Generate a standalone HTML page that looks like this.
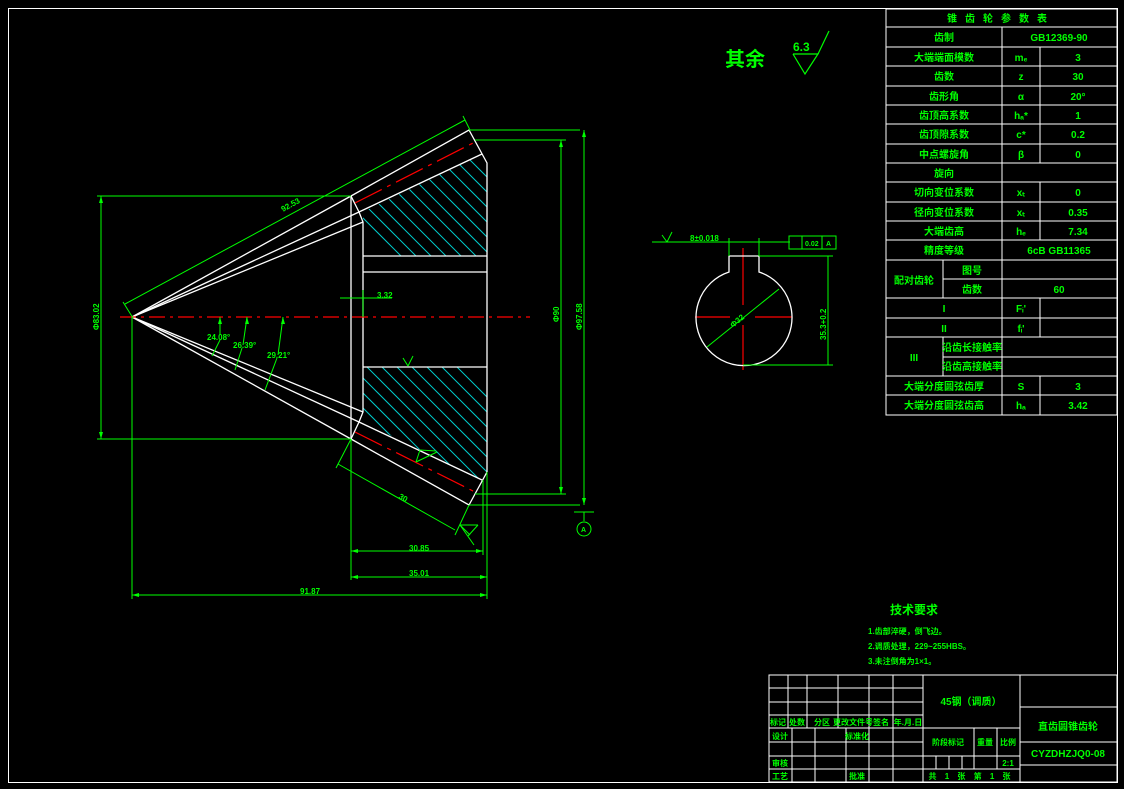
<!DOCTYPE html>
<html><head><meta charset="utf-8"><style>
html,body{margin:0;padding:0;background:#000;}
svg{display:block;}
text{font-family:"Liberation Sans","Noto Sans CJK SC",sans-serif;fill:#00ff00;font-weight:bold;}
</style></head><body>
<svg width="1124" height="789" viewBox="0 0 1124 789" xmlns="http://www.w3.org/2000/svg">
<rect x="0" y="0" width="1124" height="789" fill="#000"/>
<rect x="8.5" y="8.5" width="1109" height="774" fill="none" stroke="#fff" stroke-width="1"/>

<defs>
<clipPath id="ht"><polygon points="363,212 482,154 487,163 487,256 363,256"/></clipPath>
<clipPath id="hb"><polygon points="363,367 487,367 487,472 482,480 363,422"/></clipPath>
</defs>
<g stroke="#00cccc" stroke-width="1" clip-path="url(#ht)">
<line x1="340" y1="150" x2="450" y2="260"/><line x1="355" y1="150" x2="465" y2="260"/>
<line x1="370" y1="150" x2="480" y2="260"/><line x1="385" y1="150" x2="495" y2="260"/>
<line x1="400" y1="150" x2="510" y2="260"/><line x1="415" y1="150" x2="525" y2="260"/>
<line x1="430" y1="150" x2="540" y2="260"/><line x1="445" y1="150" x2="555" y2="260"/>
<line x1="325" y1="150" x2="435" y2="260"/><line x1="310" y1="150" x2="420" y2="260"/>
<line x1="295" y1="150" x2="405" y2="260"/><line x1="460" y1="150" x2="570" y2="260"/>
</g>
<g stroke="#00cccc" stroke-width="1" clip-path="url(#hb)">
<line x1="300" y1="360" x2="430" y2="490"/><line x1="315" y1="360" x2="445" y2="490"/>
<line x1="330" y1="360" x2="460" y2="490"/><line x1="345" y1="360" x2="475" y2="490"/>
<line x1="360" y1="360" x2="490" y2="490"/><line x1="375" y1="360" x2="505" y2="490"/>
<line x1="390" y1="360" x2="520" y2="490"/><line x1="405" y1="360" x2="535" y2="490"/>
<line x1="420" y1="360" x2="550" y2="490"/><line x1="435" y1="360" x2="565" y2="490"/>
<line x1="450" y1="360" x2="580" y2="490"/><line x1="285" y1="360" x2="415" y2="490"/>
</g>

<g stroke="#fff" stroke-width="1.3" fill="none">
<polyline points="132,317 351,196 469,130 487,163 487,472 469,505 351,439 132,317"/>
<line x1="132" y1="317" x2="359" y2="212"/><line x1="132" y1="317" x2="363" y2="222"/>
<line x1="132" y1="317" x2="359" y2="422"/><line x1="132" y1="317" x2="363" y2="412"/>
<line x1="359" y1="212" x2="482" y2="154"/><line x1="359" y1="422" x2="482" y2="480"/>
<line x1="351" y1="196" x2="351" y2="439"/>
<polyline points="351,196 359,212 363,222 363,412 359,422 351,439"/>
<line x1="363" y1="256" x2="487" y2="256"/><line x1="363" y1="272" x2="487" y2="272"/>
<line x1="363" y1="367" x2="487" y2="367"/>
</g>
<g stroke="#ff0000" stroke-width="1.2" fill="none">
<line x1="120" y1="317" x2="530" y2="317" stroke-dasharray="16,5,3,5"/>
<line x1="355" y1="203" x2="475" y2="142" stroke-dasharray="30,6,4,6"/>
<line x1="355" y1="432" x2="475" y2="492" stroke-dasharray="30,6,4,6"/>
<line x1="695" y1="317" x2="730" y2="317"/><line x1="755" y1="317" x2="792" y2="317"/>
<line x1="743" y1="248" x2="743" y2="305"/><line x1="743" y1="325" x2="743" y2="370"/>
</g>

<g stroke="#00ff00" stroke-width="1" fill="none">
<line x1="97" y1="196" x2="351" y2="196"/><line x1="97" y1="439" x2="351" y2="439"/>
<line x1="101" y1="196" x2="101" y2="439"/>
<line x1="125" y1="304" x2="465" y2="120"/><line x1="123" y1="302" x2="133" y2="318"/><line x1="463" y1="116" x2="470" y2="130"/>
<line x1="132" y1="317" x2="132" y2="599"/><line x1="351" y1="439" x2="351" y2="580"/><line x1="487" y1="472" x2="487" y2="599"/>
<line x1="483" y1="480" x2="483" y2="555"/>
<line x1="351" y1="551" x2="483" y2="551"/><line x1="351" y1="577" x2="487" y2="577"/><line x1="132" y1="595" x2="487" y2="595"/>
<line x1="469" y1="130" x2="580" y2="130"/><line x1="475" y1="140" x2="566" y2="140"/>
<line x1="469" y1="505" x2="580" y2="505"/><line x1="475" y1="494" x2="566" y2="494"/>
<line x1="561" y1="140" x2="561" y2="494"/><line x1="584" y1="130" x2="584" y2="505"/>
<line x1="574" y1="512" x2="594" y2="512"/><line x1="584" y1="512" x2="584" y2="521"/>
<circle cx="584" cy="529" r="7"/>
<line x1="351" y1="439" x2="336" y2="468"/><line x1="469" y1="505" x2="455" y2="535"/>
<line x1="338" y1="464" x2="455" y2="530"/>
<line x1="460" y1="525" x2="470" y2="535"/><line x1="460" y1="525" x2="478" y2="525"/><line x1="468" y1="536" x2="478" y2="525"/><line x1="460" y1="525" x2="474" y2="545"/>
<line x1="420" y1="450" x2="416" y2="462"/><line x1="416" y1="462" x2="437" y2="452"/><line x1="420" y1="450" x2="436" y2="451"/>
<!-- angle leaders -->
<line x1="220" y1="317" x2="220" y2="335"/><line x1="220" y1="340" x2="212" y2="356"/>
<line x1="247" y1="317" x2="243" y2="345"/><line x1="242" y1="348" x2="235" y2="370"/>
<line x1="283" y1="317" x2="278" y2="355"/><line x1="277" y1="358" x2="265" y2="390"/>
<line x1="340" y1="298" x2="372" y2="298"/><line x1="363" y1="290" x2="363" y2="317"/>
<line x1="372" y1="298" x2="392" y2="298"/>
<line x1="403" y1="358" x2="408" y2="366"/><line x1="408" y1="366" x2="413" y2="356"/>
</g>
<g fill="#00ff00">
<polygon points="220,317 218,324 222,324"/><polygon points="247,317 245,324 249,324"/><polygon points="283,317 281,324 285,324"/>
<polygon points="101,196 99,203 103,203"/><polygon points="101,439 99,432 103,432"/>
<polygon points="561,140 559,147 563,147"/><polygon points="561,494 559,487 563,487"/>
<polygon points="584,130 582,137 586,137"/><polygon points="584,505 582,498 586,498"/>
<polygon points="351,551 358,549 358,553"/><polygon points="483,551 476,549 476,553"/>
<polygon points="351,577 358,575 358,579"/><polygon points="487,577 480,575 480,579"/>
<polygon points="132,595 139,593 139,597"/><polygon points="487,595 480,593 480,597"/>
</g>
<g font-size="8">
<text x="283" y="212" transform="rotate(-29 283 212)">92.53</text>
<text x="99" y="330" transform="rotate(-90 99 330)">Φ83.02</text>
<text x="207" y="340">24.08°</text>
<text x="233" y="348">26.39°</text>
<text x="267" y="358">29.21°</text>
<text x="377" y="298">3.32</text>
<text x="398" y="498" transform="rotate(29 398 498)">30</text>
<text x="409" y="551">30.85</text>
<text x="409" y="576">35.01</text>
<text x="300" y="594">91.87</text>
<text x="559" y="322" transform="rotate(-90 559 322)">Φ90</text>
<text x="582" y="330" transform="rotate(-90 582 330)">Φ97.58</text>
<text x="581" y="532" font-size="7">A</text>
</g>

<path d="M729,256 L759,256 L759,272 A48,48 0 1 1 729,272 Z" fill="none" stroke="#fff" stroke-width="1.3"/>
<g stroke="#00ff00" stroke-width="1" fill="none">
<line x1="652" y1="242" x2="790" y2="242"/>
<line x1="729" y1="238" x2="729" y2="256"/><line x1="759" y1="238" x2="759" y2="256"/>
<line x1="759" y1="256" x2="833" y2="256"/><line x1="743" y1="365" x2="833" y2="365"/>
<line x1="828" y1="256" x2="828" y2="365"/>
<line x1="707" y1="347" x2="779" y2="289"/>
<rect x="789" y="236" width="47" height="13"/><line x1="802" y1="236" x2="802" y2="249"/><line x1="822" y1="236" x2="822" y2="249"/>
<line x1="662" y1="235" x2="667" y2="242"/><line x1="667" y1="242" x2="672" y2="232"/>
</g>
<g font-size="8">
<text x="690" y="241">8±0.018</text>
<text x="805" y="246" font-size="7">0.02</text>
<text x="826" y="246" font-size="7">A</text>
<text x="733" y="328" transform="rotate(-40 733 328)">Φ32</text>
<text x="826" y="340" transform="rotate(-90 826 340)">35.3+0.2</text>
</g>

<text x="725" y="66" font-size="20" font-weight="normal">其余</text>
<text x="793" y="51" font-size="12" font-weight="normal">6.3</text>
<g stroke="#00ff00" stroke-width="1.2" fill="none">
<polyline points="793,54 818,54 805,74 793,54"/><line x1="818" y1="54" x2="829" y2="31"/>
</g>

<text x="890" y="614" font-size="12">技术要求</text>
<g font-size="8">
<text x="868" y="634">1.齿部淬硬，倒飞边。</text>
<text x="868" y="649">2.调质处理，229~255HBS。</text>
<text x="868" y="664">3.未注倒角为1×1。</text>
</g>

<g stroke="#fff" stroke-width="1" fill="none">
<rect x="886" y="9" width="231" height="406"/>
<line x1="886" y1="27" x2="1117" y2="27"/><line x1="886" y1="47" x2="1117" y2="47"/>
<line x1="886" y1="66" x2="1117" y2="66"/><line x1="886" y1="86" x2="1117" y2="86"/>
<line x1="886" y1="105" x2="1117" y2="105"/><line x1="886" y1="124" x2="1117" y2="124"/>
<line x1="886" y1="144" x2="1117" y2="144"/><line x1="886" y1="163" x2="1117" y2="163"/>
<line x1="886" y1="182" x2="1117" y2="182"/><line x1="886" y1="202" x2="1117" y2="202"/>
<line x1="886" y1="221" x2="1117" y2="221"/><line x1="886" y1="240" x2="1117" y2="240"/>
<line x1="886" y1="260" x2="1117" y2="260"/><line x1="943" y1="279" x2="1117" y2="279"/>
<line x1="886" y1="298" x2="1117" y2="298"/><line x1="886" y1="318" x2="1117" y2="318"/>
<line x1="886" y1="337" x2="1117" y2="337"/><line x1="943" y1="357" x2="1117" y2="357"/>
<line x1="886" y1="376" x2="1117" y2="376"/><line x1="886" y1="395" x2="1117" y2="395"/>
<line x1="1002" y1="27" x2="1002" y2="415"/>
<line x1="1040" y1="47" x2="1040" y2="163"/><line x1="1040" y1="182" x2="1040" y2="240"/>
<line x1="1040" y1="298" x2="1040" y2="337"/><line x1="1040" y1="376" x2="1040" y2="415"/>
<line x1="943" y1="260" x2="943" y2="298"/><line x1="943" y1="337" x2="943" y2="376"/>
</g>
<g font-size="10" text-anchor="middle">
<text x="1001" y="22" letter-spacing="8">锥齿轮参数表</text>
<text x="944" y="41">齿制</text><text x="1059" y="41">GB12369-90</text>
<text x="944" y="61">大端端面模数</text><text x="1021" y="61">mₑ</text><text x="1078" y="61">3</text>
<text x="944" y="80">齿数</text><text x="1021" y="80">z</text><text x="1078" y="80">30</text>
<text x="944" y="100">齿形角</text><text x="1021" y="100">α</text><text x="1078" y="100">20°</text>
<text x="944" y="119">齿顶高系数</text><text x="1021" y="119">hₐ*</text><text x="1078" y="119">1</text>
<text x="944" y="138">齿顶隙系数</text><text x="1021" y="138">c*</text><text x="1078" y="138">0.2</text>
<text x="944" y="158">中点螺旋角</text><text x="1021" y="158">β</text><text x="1078" y="158">0</text>
<text x="944" y="177">旋向</text>
<text x="944" y="196">切向变位系数</text><text x="1021" y="196">xₜ</text><text x="1078" y="196">0</text>
<text x="944" y="216">径向变位系数</text><text x="1021" y="216">xₜ</text><text x="1078" y="216">0.35</text>
<text x="944" y="235">大端齿高</text><text x="1021" y="235">hₑ</text><text x="1078" y="235">7.34</text>
<text x="944" y="254">精度等级</text><text x="1059" y="254">6cB GB11365</text>
<text x="914" y="284">配对齿轮</text><text x="972" y="274">图号</text>
<text x="972" y="293">齿数</text><text x="1059" y="293">60</text>
<text x="944" y="312">I</text><text x="1021" y="312">Fᵢ'</text>
<text x="944" y="332">II</text><text x="1021" y="332">fᵢ'</text>
<text x="914" y="361">III</text><text x="972" y="351">沿齿长接触率</text><text x="972" y="370">沿齿高接触率</text>
<text x="944" y="390">大端分度圆弦齿厚</text><text x="1021" y="390">S</text><text x="1078" y="390">3</text>
<text x="944" y="409">大端分度圆弦齿高</text><text x="1021" y="409">hₐ</text><text x="1078" y="409">3.42</text>
</g>

<g stroke="#fff" stroke-width="1" fill="none">
<rect x="769" y="675" width="348" height="107"/>
<line x1="769" y1="688" x2="923" y2="688"/><line x1="769" y1="702" x2="923" y2="702"/>
<line x1="769" y1="715" x2="923" y2="715"/><line x1="769" y1="728" x2="1020" y2="728"/>
<line x1="769" y1="742" x2="923" y2="742"/><line x1="769" y1="756" x2="1020" y2="756"/>
<line x1="769" y1="769" x2="1020" y2="769"/>
<line x1="788" y1="675" x2="788" y2="728"/><line x1="807" y1="675" x2="807" y2="728"/>
<line x1="838" y1="675" x2="838" y2="728"/><line x1="869" y1="675" x2="869" y2="782"/>
<line x1="893" y1="675" x2="893" y2="782"/><line x1="923" y1="675" x2="923" y2="782"/>
<line x1="792" y1="728" x2="792" y2="782"/><line x1="815" y1="728" x2="815" y2="782"/>
<line x1="846" y1="728" x2="846" y2="782"/>
<line x1="974" y1="728" x2="974" y2="769"/><line x1="997" y1="728" x2="997" y2="769"/>
<line x1="936" y1="756" x2="936" y2="769"/><line x1="949" y1="756" x2="949" y2="769"/><line x1="962" y1="756" x2="962" y2="769"/>
<line x1="1020" y1="675" x2="1020" y2="782"/>
<line x1="1020" y1="707" x2="1117" y2="707"/><line x1="1020" y1="742" x2="1117" y2="742"/><line x1="1020" y1="765" x2="1117" y2="765"/>
</g>
<g font-size="8" text-anchor="middle">
<text x="778" y="725">标记</text><text x="797" y="725">处数</text><text x="822" y="725">分区</text>
<text x="853" y="725">更改文件号</text><text x="881" y="725">签名</text><text x="908" y="725">年.月.日</text>
<text x="780" y="739">设计</text><text x="857" y="739">标准化</text>
<text x="780" y="766">审核</text><text x="780" y="779">工艺</text><text x="857" y="779">批准</text>
<text x="948" y="745">阶段标记</text><text x="985" y="745">重量</text><text x="1008" y="745">比例</text>
<text x="1008" y="766">2:1</text>
<text x="971" y="779" letter-spacing="3">共 1 张  第 1 张</text>
<text x="971" y="705" font-size="10">45钢（调质）</text>
<text x="1068" y="730" font-size="10">直齿圆锥齿轮</text>
<text x="1068" y="757" font-size="10">CYZDHZJQ0-08</text>
</g>
</svg>
</body></html>
